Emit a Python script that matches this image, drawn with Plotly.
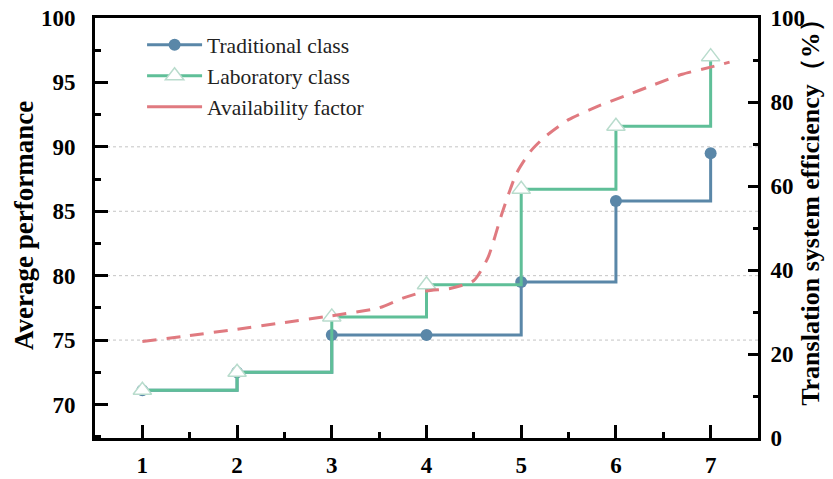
import plotly.graph_objects as go

# ---- data ----
groups = [1, 2, 3, 4, 5, 6, 7]
traditional = [71.1, 72.5, 75.4, 75.4, 79.5, 85.8, 89.5]
laboratory = [71.1, 72.5, 76.8, 79.3, 86.7, 91.6, 97.0]

avail_x = [1.0, 1.5, 2.0, 2.5, 3.0, 3.5, 3.75, 4.0, 4.25, 4.5, 4.65, 4.8, 4.95,
           5.1, 5.25, 5.5, 5.8, 6.1, 6.4, 6.7, 7.0, 7.2]
avail_y = [23.0, 24.4, 25.9, 27.5, 29.1, 31.0, 33.3, 35.0, 35.6, 37.5, 43.0, 53.7, 63.0,
           68.3, 71.7, 75.8, 78.9, 81.5, 84.1, 86.6, 88.3, 89.5]

grid_vals = [75, 80, 85, 90]
left_ticks = [70, 75, 80, 85, 90, 95, 100]
right_ticks = [0, 20, 40, 60, 80, 100]

BLUE = "#5a87a8"
GREEN = "#5fbf98"
RED = "#e07a80"
SERIF = "Liberation Serif, Times New Roman, serif"

fig = go.Figure()

fig.add_trace(go.Scatter(
    x=groups, y=traditional, name="Traditional class", mode="lines+markers",
    line=dict(color=BLUE, width=3, shape="hv"),
    marker=dict(symbol="circle", size=12, color=BLUE),
))
fig.add_trace(go.Scatter(
    x=groups, y=laboratory, name="Laboratory class", mode="lines+markers",
    line=dict(color=GREEN, width=3, shape="hv"),
    marker=dict(symbol="triangle-up", size=16, color="white",
                line=dict(color="#b9dccd", width=1.5)),
))
fig.add_trace(go.Scatter(
    x=avail_x, y=avail_y, name="Availability factor", mode="lines", yaxis="y2",
    line=dict(color=RED, width=3, dash="14px,10px", shape="spline", smoothing=0.6),
    showlegend=False,
))
# legend entry for the dashed series (drawn solid in the reference legend)
fig.add_trace(go.Scatter(
    x=[None], y=[None], name="Availability factor", mode="lines", yaxis="y2",
    line=dict(color=RED, width=3),
))

for g in grid_vals:
    fig.add_shape(type="line", xref="paper", x0=0, x1=1, yref="y", y0=g, y1=g,
                  line=dict(color="#c4c4c4", width=1, dash="dot"), layer="below")

fig.update_layout(
    width=833, height=479,
    margin=dict(l=95, r=75, t=18, b=41, autoexpand=False),
    paper_bgcolor="white", plot_bgcolor="white",
    font=dict(family=SERIF, color="black"),
    showlegend=True,
    legend=dict(x=0.071, y=0.985, xanchor="left", yanchor="top",
                font=dict(family=SERIF, size=21.5, color="#222"),
                bgcolor="rgba(0,0,0,0)", itemwidth=55, tracegroupgap=0),
    xaxis=dict(
        range=[0.5, 7.5], tickvals=groups, showgrid=False, zeroline=False, automargin=False,
        showline=True, linecolor="black", linewidth=3, mirror=True,
        ticks="inside", ticklen=13, tickwidth=2.5, tickcolor="black",
        minor=dict(dtick=0.5, tick0=0.5, ticks="inside", ticklen=6, tickwidth=2.5, tickcolor="black"),
        tickfont=dict(family=SERIF, size=23, weight="bold"),
        ticklabelstandoff=4,
    ),
    yaxis=dict(
        range=[67.4, 100], tickvals=left_ticks, showgrid=False, zeroline=False, automargin=False,
        showline=True, linecolor="black", linewidth=3,
        ticks="inside", ticklen=13, tickwidth=2.5, tickcolor="black",
        minor=dict(dtick=2.5, tick0=70, ticks="inside", ticklen=6, tickwidth=2.5, tickcolor="black"),
        tickfont=dict(family=SERIF, size=23, weight="bold"),
        ticklabelstandoff=12,
    ),
    yaxis2=dict(
        range=[0, 100], tickvals=right_ticks, overlaying="y", side="right", automargin=False,
        showgrid=False, zeroline=False,
        showline=True, linecolor="black", linewidth=3,
        ticks="inside", ticklen=10, tickwidth=2.5, tickcolor="black",
        minor=dict(dtick=10, tick0=0, ticks="inside", ticklen=5, tickwidth=2.5, tickcolor="black"),
        tickfont=dict(family=SERIF, size=23, weight="bold"),
        ticklabelstandoff=5,
    ),
    annotations=[
        dict(text="Average performance", textangle=-90, xref="paper", yref="paper",
             x=-0.107, y=0.505, xanchor="center", yanchor="middle", showarrow=False,
             font=dict(family=SERIF, size=27, weight="bold")),
        dict(text="Translation system efficiency（%）", textangle=-90, xref="paper", yref="paper",
             x=1.078, y=0.552, xanchor="center", yanchor="middle", showarrow=False,
             font=dict(family=SERIF, size=26, weight="bold")),
    ],
)

fig.write_html("out.html", config={"displayModeBar": False},
               post_script="document.body.style.margin='0';document.body.style.overflow='hidden';")
